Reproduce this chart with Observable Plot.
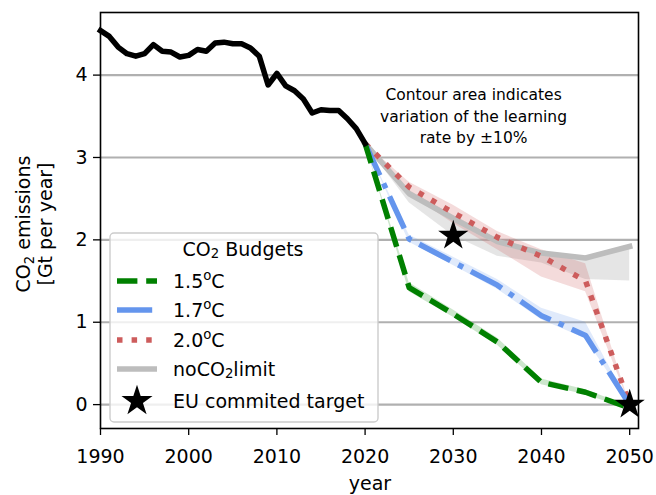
<!DOCTYPE html>
<html>
<head>
<meta charset="utf-8">
<script src="https://cdn.jsdelivr.net/npm/d3@7"></script>
<script src="https://cdn.jsdelivr.net/npm/@observablehq/plot@0.6"></script>
<style>
  html, body { margin: 0; padding: 0; background: #fff; }
  #chart { position: relative; width: 656px; height: 495px; }
  svg { font-family: "DejaVu Sans", sans-serif; }
</style>
</head>
<body>
<div id="chart"></div>
<script>
// ---------- data ----------
const histYears = [1990,1991,1992,1993,1994,1995,1996,1997,1998,1999,2000,2001,2002,2003,2004,2005,2006,2007,2008,2009,2010,2011,2012,2013,2014,2015,2016,2017,2018,2019,2020];
const histValues = [4.54,4.47,4.34,4.26,4.23,4.26,4.37,4.29,4.28,4.22,4.24,4.31,4.29,4.39,4.40,4.38,4.38,4.33,4.23,3.88,4.02,3.87,3.81,3.71,3.54,3.58,3.57,3.57,3.47,3.35,3.17];

const scenYears = [2020,2025,2030,2035,2040,2045,2050];
const s15   = [3.17,1.42,1.10,0.76,0.27,0.15,-0.04];
const s15Lo = [3.17,1.37,1.06,0.72,0.24,0.12,-0.06];
const s15Hi = [3.17,1.48,1.15,0.81,0.31,0.18,-0.02];
const s17   = [3.17,2.01,1.73,1.45,1.08,0.84,0.00];
const s17Lo = [3.17,1.97,1.69,1.40,1.03,0.80,0.00];
const s17Hi = [3.17,2.06,1.79,1.52,1.17,1.00,0.00];
const s20   = [3.17,2.64,2.33,2.03,1.80,1.50,0.00];
const s20Lo = [3.17,2.56,2.20,1.88,1.55,1.37,0.00];
const s20Hi = [3.17,2.70,2.42,2.10,1.88,1.71,0.00];
const sNo   = [3.17,2.56,2.26,1.98,1.84,1.78,1.92];
const sNoLo = [3.17,2.45,2.05,1.80,1.72,1.52,1.50];
const sNoHi = [3.17,2.60,2.30,2.01,1.86,1.80,1.94];

const targetYears = [2030,2050];
const targetValues = [2.05,0];

const xTicks = [1990,2000,2010,2020,2030,2040,2050];
const yTicks = [0,1,2,3,4];

const seriesNames = ["1.5°C","1.7°C","2.0°C","noCO2limit"];
const seriesColors = ["#008000","#6495ED","#CD5C5C","#bdbdbd"];
const seriesDash = ["20.4,8.8","35.2,8.8,5.5,8.8","5.5,9.1",null];

const annotation = {x: 2032.3, y: 3.52, text: "Contour area indicates\nvariation of the learning\nrate by ±10%"};

// ---------- build tables ----------
const hist = histYears.map((year, i) => ({year, value: histValues[i]}));
const lines = [s15, s17, s20, sNo];
const lows = [s15Lo, s17Lo, s20Lo, sNoLo];
const highs = [s15Hi, s17Hi, s20Hi, sNoHi];
const scen = seriesNames.map((name, k) => scenYears.map((year, i) => ({
  name, year, value: lines[k][i], lo: lows[k][i], hi: highs[k][i]
})));
const targets = targetYears.map((year, i) => ({year, value: targetValues[i]}));

const bandOpacity = [0.2, 0.2, 0.22, 0.42];
const bandColors = ["#008000","#6495ED","#CD5C5C","#c0c0c0"];
const LW = 5.5;
const FS = 19;

const marks = [
  Plot.ruleY(yTicks, {stroke: "#b0b0b0", strokeWidth: 2.2}),
];
[3,2,1,0].forEach(k => {
  marks.push(Plot.areaY(scen[k], {x: "year", y1: "lo", y2: "hi", fill: bandColors[k], fillOpacity: bandOpacity[k]}));
});
[3,2,1,0].forEach(k => {
  marks.push(Plot.line(scen[k], {
    x: "year", y: "value", stroke: seriesColors[k], strokeWidth: LW,
    strokeDasharray: seriesDash[k] || undefined,
    strokeLinecap: seriesDash[k] ? "butt" : "square", strokeLinejoin: "round"
  }));
});
marks.push(Plot.line(hist, {x: "year", y: "value", stroke: "black", strokeWidth: LW, strokeLinejoin: "round", strokeLinecap: "square"}));
marks.push(Plot.dot(targets, {x: "year", y: "value", symbol: "star", r: 9.5, fill: "black", stroke: "none"}));
marks.push(Plot.text([annotation], {x: "x", y: "y", text: "text", fontSize: 15.5, lineHeight: 1.4, fill: "black", textAnchor: "middle"}));
marks.push(Plot.axisX({ticks: xTicks, tickFormat: d => String(d), tickSize: 7, tickPadding: 14, fontSize: FS, label: null, stroke: "black", strokeWidth: 1.3}));
marks.push(Plot.axisY({ticks: yTicks, tickFormat: d => String(d), tickSize: 7, tickPadding: 6, fontSize: FS, label: null, stroke: "black", strokeWidth: 1.3}));
marks.push(Plot.frame({stroke: "black", strokeWidth: 1.6}));

const chart = Plot.plot({
  width: 656, height: 495,
  marginLeft: 100, marginRight: 18, marginTop: 12, marginBottom: 67,
  x: {domain: [1990, 2051]},
  y: {domain: [-0.29, 4.76]},
  style: {fontFamily: "DejaVu Sans", fontSize: FS + "px", color: "black", background: "white"},
  marks
});
document.getElementById("chart").appendChild(chart);

// ---------- axis titles ----------
const svg = d3.select(chart);
svg.append("text").attr("x", 370).attr("y", 490).attr("text-anchor", "middle")
  .attr("font-size", FS).attr("fill", "black").text("year");

function co2(t, before, after) {
  t.append("tspan").text(before + "CO");
  t.append("tspan").attr("font-size", FS * 0.7).attr("dy", 4).text("2");
  t.append("tspan").attr("dy", -4).text(after);
}
const yl = svg.append("g").attr("transform", "translate(0,224) rotate(-90)");
const t1 = yl.append("text").attr("x", 0).attr("y", 30).attr("text-anchor", "middle").attr("font-size", FS).attr("fill", "black");
co2(t1, "", " emissions");
yl.append("text").attr("x", 0).attr("y", 52).attr("text-anchor", "middle").attr("font-size", FS).attr("fill", "black").text("[Gt per year]");

// ---------- legend ----------
const lg = svg.append("g");
lg.append("rect").attr("x", 110).attr("y", 233).attr("width", 268).attr("height", 189).attr("rx", 4)
  .attr("fill", "white").attr("fill-opacity", 0.8).attr("stroke", "#cccccc").attr("stroke-width", 1.4);
const title = lg.append("text").attr("x", 243).attr("y", 249).attr("text-anchor", "middle").attr("dominant-baseline", "central").attr("font-size", FS).attr("fill", "black");
co2(title, "", " Budgets");

const rowY = [281, 310, 340, 369];
seriesNames.forEach((name, k) => {
  lg.append("line").attr("x1", 117).attr("x2", 157).attr("y1", rowY[k]).attr("y2", rowY[k])
    .attr("stroke", seriesColors[k]).attr("stroke-width", LW)
    .attr("stroke-dasharray", seriesDash[k]);
  const t = lg.append("text").attr("x", 173).attr("y", rowY[k]).attr("text-anchor", "start").attr("dominant-baseline", "central").attr("font-size", FS).attr("fill", "black");
  if (name === "noCO2limit") {
    co2(t, "no", "limit");
  } else {
    const [num] = name.split("°");
    t.append("tspan").text(num);
    t.append("tspan").attr("font-size", FS * 0.7).attr("dy", -6).text("o");
    t.append("tspan").attr("dy", 6).text("C");
  }
});
lg.append("path").attr("d", d3.symbol(d3.symbolStar, 300)()).attr("transform", "translate(137,401)").attr("fill", "black");
lg.append("text").attr("x", 173).attr("y", 401).attr("text-anchor", "start").attr("dominant-baseline", "central").attr("font-size", FS).attr("fill", "black").text("EU commited target");
</script>
</body>
</html>
